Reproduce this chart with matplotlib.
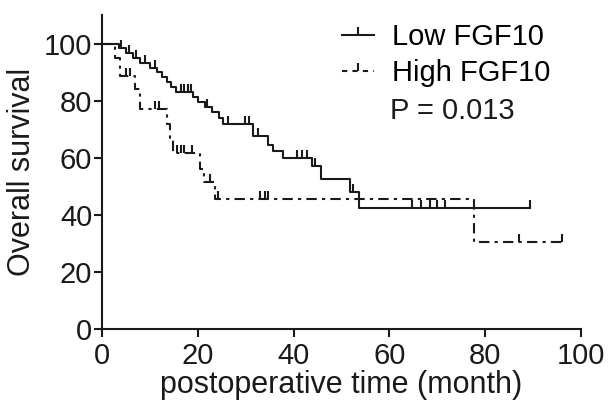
import numpy as np
import matplotlib.pyplot as plt

# Kaplan-Meier steps (months, % surviving)
low_t = [0, 3.5, 5, 6.5, 8, 10, 11.5, 12.5, 13.5, 14.5, 15.5, 19, 20, 21.5, 23, 24.5,
         25.3, 31.5, 34.7, 35.8, 37.8, 43.8, 45.7, 51.8, 53.7, 89.4]
low_s = [100, 98.3, 96.6, 95, 93.3, 91.6, 89.9, 88.2, 86.5, 84.8, 83.1, 81.3, 79.5, 77.7, 75.9, 74.1,
         72, 67.6, 64.5, 62.2, 60, 57, 52.6, 48, 42.3, 42.3]
low_cens = [4, 5.7, 7.2, 9, 11, 16.5, 17.2, 17.9, 18.5, 22, 26.3, 29.9, 30.7, 32.6,
            40.7, 41.8, 42.8, 44.5, 52.4, 64.7, 66.6, 68.5, 69.9, 71.6, 89.4]

high_t = [0, 2.7, 3.8, 6.9, 8.0, 13.5, 14.2, 14.8, 20.5, 21.2, 23.6, 77.7, 96]
high_s = [100, 95, 88.5, 84, 77, 72, 67, 61.5, 56, 51.5, 45.5, 30.5, 30.5]
high_cens = [5.0, 5.8, 11, 12, 15.6, 16.4, 17.2, 18.8, 22.5, 24.3, 33, 34, 34.7, 87, 96]

plt.rcParams['font.family'] = ['Liberation Sans', 'DejaVu Sans']
ink = '#1a1a1a'


def surv_at(ts, ss, x):
    idx = np.searchsorted(ts, x, side='right') - 1
    return np.array(ss)[idx]


fig = plt.figure(figsize=(6.09, 4.07), dpi=100)
ax = fig.add_axes([0.1675, 0.1916, 0.7865, 0.7714])

lw = 1.5
ax.step(low_t, low_s, where='post', color=ink, lw=lw)
ax.plot(low_cens, surv_at(low_t, low_s, low_cens), ls='none', marker=2,
        ms=5.5, mew=lw, color=ink)
ax.step(high_t, high_s, where='post', color=ink, lw=lw, ls=(0, (5, 2.5, 1.5, 2.5)))
ax.plot(high_cens, surv_at(high_t, high_s, high_cens), ls='none', marker=2,
        ms=5.5, mew=lw, color=ink)

# legend handles
h1, = ax.plot([], [], color=ink, lw=lw, marker=2, ms=6, mew=lw)
h2, = ax.plot([], [], color=ink, lw=lw, marker=2, ms=6, mew=lw,
              ls=(0, (2.5, 2.5)))
ax.legend([h1, h2], ['Low FGF10', 'High FGF10'], loc='upper left',
          bbox_to_anchor=(0.552, 0.958), bbox_transform=fig.transFigure,
          frameon=False, fontsize=21, handlelength=1.1, handletextpad=0.6,
          labelspacing=0.27, numpoints=1, borderaxespad=0, borderpad=0.2)
ax.text(0.64, 0.727, 'P = 0.013', transform=fig.transFigure, fontsize=21,
        ha='left', va='center', color=ink)

ax.set_xlim(0, 100)
ax.set_ylim(0, 110)
ax.set_xticks([0, 20, 40, 60, 80, 100])
ax.set_yticks([0, 20, 40, 60, 80, 100])
for side in ['top', 'right']:
    ax.spines[side].set_visible(False)
for side in ['left', 'bottom']:
    ax.spines[side].set_linewidth(1.5)
    ax.spines[side].set_color(ink)
ax.tick_params(width=1.5, length=6, labelsize=21, colors=ink)
ax.tick_params(axis='x', pad=3)
ax.tick_params(axis='y', pad=1)
ax.set_xlabel('postoperative time (month)', fontsize=22, color=ink, labelpad=0)
ax.set_ylabel('Overall survival', fontsize=22, color=ink, labelpad=5)

fig.savefig('out.png', dpi=100)
